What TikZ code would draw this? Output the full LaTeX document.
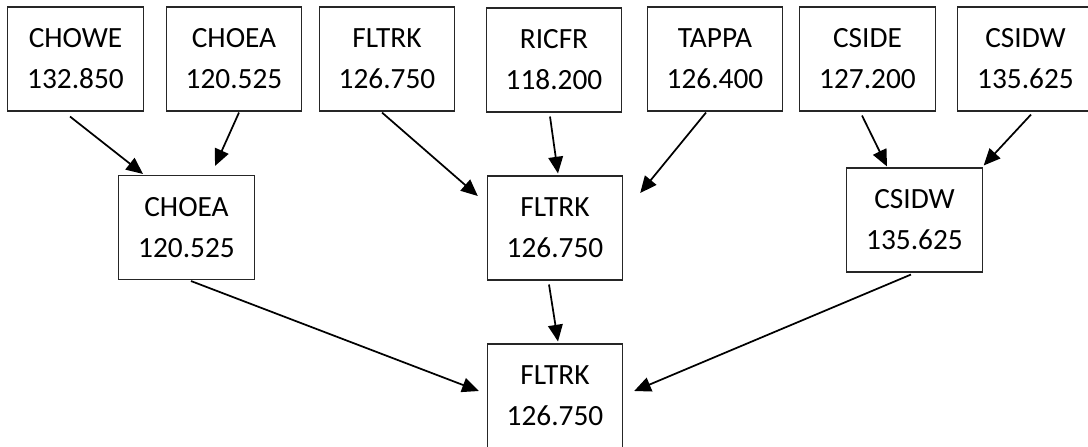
\documentclass[tikz,border=0pt]{standalone}
\usepackage{fontspec}
\setmainfont{Carlito}
\usetikzlibrary{arrows.meta,calc}

\tikzset{
  unitbox/.style={draw=black!85, line width=0.8pt, fill=white,
    minimum width=101.5pt, minimum height=78pt, inner sep=0pt,
    align=center, font=\fontsize{22pt}{30.75pt}\selectfont},
  link/.style={line width=1.3pt, -{Triangle[length=12.5pt,width=11pt]}}
}

\begin{document}
\begin{tikzpicture}[x=0.75pt, y=-0.75pt]
  \useasboundingbox (0,0) rectangle (1088,446);
  \clip (0,0) rectangle (1088,446);

  % first round of units
  \node[unitbox] (chowe) at (75.5,59)   {CHOWE\\132.850};
  \node[unitbox] (choea) at (234,59)    {CHOEA\\120.525};
  \node[unitbox] (fltrk) at (387,59)    {FLTRK\\126.750};
  \node[unitbox] (ricfr) at (554,60)    {RICFR\\118.200};
  \node[unitbox] (tappa) at (715,59)    {TAPPA\\126.400};
  \node[unitbox] (cside) at (867.5,59)  {CSIDE\\127.200};
  \node[unitbox] (csidw) at (1025.5,59) {CSIDW\\135.625};

  % second round
  \node[unitbox] (choeaB) at (186.5,227.5) {CHOEA\\120.525};
  \node[unitbox] (fltrkB) at (555,228)     {FLTRK\\126.750};
  \node[unitbox] (csidwB) at (914.5,220)   {CSIDW\\135.625};

  % final
  \node[unitbox] (fltrkC) at (555,396) {FLTRK\\126.750};

  % links into the second round
  \draw[link] ($(chowe.south)+(-5.5,5)$) -- ($(choeaB.north)+(-43.5,-1)$);
  \draw[link] ($(choea.south)+(5,1)$)    -- ($(choeaB.north)+(28.5,-9)$);
  \draw[link] ($(fltrk.south)+(-5,1)$)   -- ($(fltrkB.west)+(-9,-32)$);
  \draw[link] ($(ricfr.south)+(-4,4)$)   -- ($(fltrkB.north)+(3,-2)$);
  \draw[link] ($(tappa.south)+(-9,1)$)   -- ($(fltrkB.east)+(17,-35)$);
  \draw[link] ($(cside.south)+(-5.5,4)$) -- ($(csidwB.north)+(-27.5,-1)$);
  \draw[link] ($(csidw.south)+(5.5,3)$)  -- ($(csidwB.north east)+(1,-2)$);

  % links into the final
  \draw[link] ($(choeaB.south)+(4.5,1)$)  -- ($(fltrkC.west)+(-8,-5)$);
  \draw[link] ($(fltrkB.south)+(-6,4)$)   -- ($(fltrkC.north)+(3,-2)$);
  \draw[link] ($(csidwB.south)+(-3.5,2)$) -- ($(fltrkC.east)+(11,-5)$);
\end{tikzpicture}
\end{document}
